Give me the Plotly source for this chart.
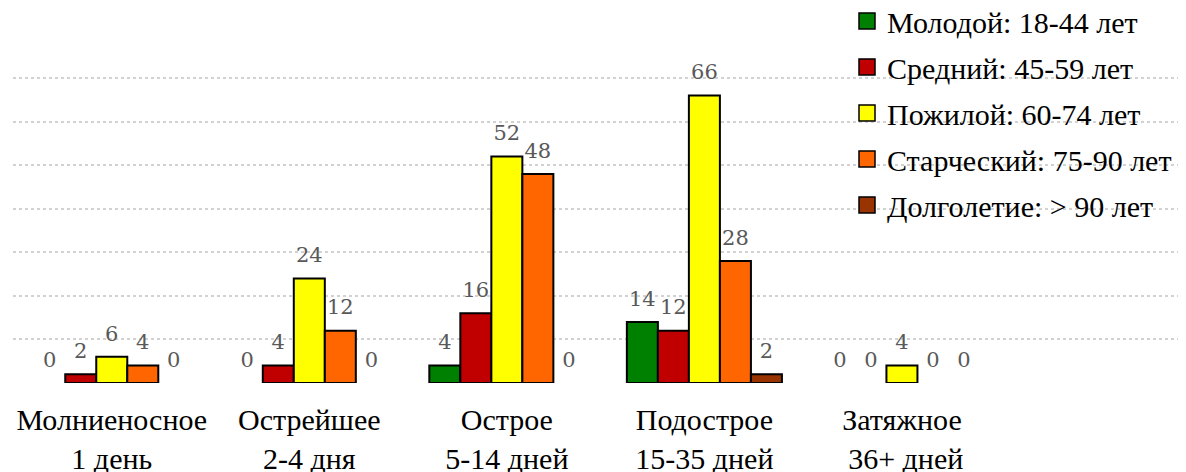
import plotly.graph_objects as go

categories = ["Молниеносное<br>1 день", "Острейшее<br>2-4 дня", "Острое<br>5-14 дней",
              "Подострое<br>15-35 дней", "Затяжное<br> 36+ дней"]
series_names = ["Молодой: 18-44 лет", "Средний: 45-59 лет", "Пожилой: 60-74 лет",
                "Старческий: 75-90 лет", "Долголетие: > 90 лет"]
molodoy = [0, 0, 4, 14, 0]
sredniy = [2, 4, 16, 12, 0]
pozhiloy = [6, 24, 52, 66, 4]
starcheskiy = [4, 12, 48, 28, 0]
dolgoletie = [0, 0, 0, 2, 0]
series_values = [molodoy, sredniy, pozhiloy, starcheskiy, dolgoletie]
colors = ["#008000", "#C00000", "#FFFF00", "#FF6600", "#993300"]
y_ticks = [0, 10, 20, 30, 40, 50, 60, 70]

SERIF = "Times New Roman, Liberation Serif, serif"
W = 0.157
fig = go.Figure()
n = len(series_values)
for j, (name, vals, col) in enumerate(zip(series_names, series_values, colors)):
    xs = [i + (j - (n - 1) / 2) * W for i in range(len(categories))]
    fig.add_trace(go.Bar(x=xs, y=vals, width=W,
                         marker=dict(color=col, line=dict(color="black", width=[2 if v else 0 for v in vals])),
                         showlegend=False, hoverinfo="y"))
    fig.add_trace(go.Scatter(x=xs, y=vals, mode="markers+text", text=[str(v) for v in vals],
                             textposition="top center",
                             marker=dict(size=16, color="rgba(0,0,0,0)"),
                             textfont=dict(family="DejaVu Serif", size=21, color="#595959"),
                             showlegend=False, hoverinfo="skip", cliponaxis=False))
    fig.add_trace(go.Scatter(x=[None], y=[None], mode="markers", name=name, legendgroup=name,
                             marker=dict(symbol="square", size=16, color=col, line=dict(color="black", width=1.5))))

fig.update_layout(
    width=1178, height=464,
    margin=dict(l=5, r=0, t=68, b=89, autoexpand=False),
    plot_bgcolor="white", paper_bgcolor="white",
    barmode="overlay",
    xaxis=dict(range=[-0.5, 5.438], tickvals=list(range(len(categories))), ticktext=categories,
               showgrid=False, zeroline=False, showline=False, ticks="", automargin=False,
               ticklabelstandoff=16,
               tickfont=dict(family=SERIF, size=30, color="black")),
    yaxis=dict(range=[0, 70.5], tickvals=y_ticks, showticklabels=False, showgrid=True, automargin=False,
               gridcolor="#d2d2d2", gridwidth=1.8, griddash="dot", zeroline=False, showline=False),
    legend=dict(x=0.711, y=1.264, xanchor="left", yanchor="top", traceorder="grouped",
                tracegroupgap=4, itemwidth=30, bgcolor="rgba(0,0,0,0)", maxheight=1,
                font=dict(family=SERIF, size=30, color="black")),
)
fig.write_html("out.html")
